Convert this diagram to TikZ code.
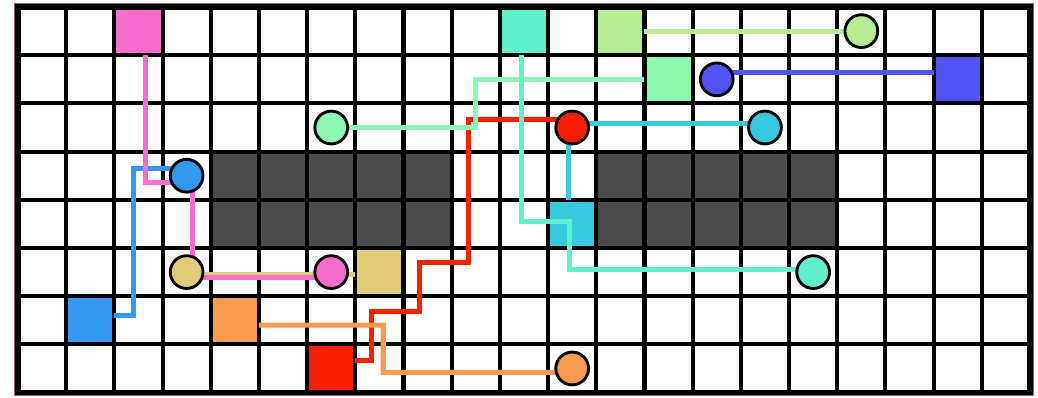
\documentclass[tikz,border=0pt]{standalone}
\usepackage{xcolor}
\usepackage{tikz}
\definecolor{fpink}{HTML}{F86ECE}
\definecolor{fteal}{HTML}{60F0CC}
\definecolor{flime}{HTML}{B6EC92}
\definecolor{fmint}{HTML}{8CF8B2}
\definecolor{fviolet}{HTML}{5252F7}
\definecolor{fcyan}{HTML}{36C9E0}
\definecolor{fkhaki}{HTML}{E1CC79}
\definecolor{fblue}{HTML}{3498EE}
\definecolor{forange}{HTML}{F99B4F}
\definecolor{fred}{HTML}{F91F00}
\definecolor{fwall}{HTML}{4B4B4B}
\definecolor{fframe}{HTML}{8B6464}

\pgfdeclarelayer{board}
\pgfdeclarelayer{wires}
\pgfsetlayers{board,wires,main}

\tikzset{
  sq/.style={minimum size=1cm, inner sep=0pt, outer sep=0pt},
  dot/.style={circle, draw=black, line width=1.7pt, minimum size=0.68cm, inner sep=0pt, outer sep=0pt},
  wire/.style={line width=3pt}
}

\begin{document}
\begin{tikzpicture}[x=1cm, y=-1cm]
  \useasboundingbox (-0.373,-0.146) rectangle (21.166,8.092);
  \begin{pgfonlayer}{board}
  \draw[fframe, line width=0.6pt] (-0.065,-0.065) rectangle (21.065,8.065);
  % end squares
  \node[sq, fill=fpink] (pinkS) at (2.5,0.5) {};
  \node[sq, fill=fteal] (tealS) at (10.5,0.5) {};
  \node[sq, fill=flime] (limeS) at (12.5,0.5) {};
  \node[sq, fill=fmint] (mintS) at (13.5,1.5) {};
  \node[sq, fill=fviolet] (violetS) at (19.5,1.5) {};
  \node[sq, fill=fcyan] (cyanS) at (11.5,4.5) {};
  \node[sq, fill=fkhaki] (khakiS) at (7.5,5.5) {};
  \node[sq, fill=fblue] (blueS) at (1.5,6.5) {};
  \node[sq, fill=forange] (orangeS) at (4.5,6.5) {};
  \node[sq, fill=fred] (redS) at (6.5,7.5) {};
  % walls
  \fill[fwall] (4,3) rectangle (9,5);
  \fill[fwall] (12,3) rectangle (17,5);
  % board
  \draw[line width=2.4pt] (0,0) grid (21,8);
  \draw[line width=3pt] (0,0) rectangle (21,8);
  \end{pgfonlayer}
  % end dots
  \node[dot, fill=flime] (limeC) at (17.5,0.5) {};
  \node[dot, fill=fviolet] (violetC) at (14.5,1.5) {};
  \node[dot, fill=fmint] (mintC) at (6.5,2.5) {};
  \node[dot, fill=fred] (redC) at (11.5,2.5) {};
  \node[dot, fill=fcyan] (cyanC) at (15.5,2.5) {};
  \node[dot, fill=fblue] (blueC) at (3.5,3.5) {};
  \node[dot, fill=fkhaki] (khakiC) at (3.5,5.5) {};
  \node[dot, fill=fpink] (pinkC) at (6.5,5.5) {};
  \node[dot, fill=fteal] (tealC) at (16.5,5.5) {};
  \node[dot, fill=forange] (orangeC) at (11.5,7.5) {};
  % wires
  \begin{pgfonlayer}{wires}
  \draw[wire, fblue] ([yshift=.1cm]blueS.east) -| (2.4,3.35) -- ([yshift=.15cm]blueC.center);
  \draw[wire, fkhaki] ([yshift=-.05cm]khakiC.center) -- ([yshift=-.05cm]khakiS.west);
  \draw[wire, fpink] ([xshift=.14cm]pinkS.south) |- (3.63,3.64) |- ([yshift=-.12cm]pinkC.center);
  \draw[wire, fred] ([yshift=.16cm]redC.center) -| (9.34,5.31) -| (8.33,6.32) -| (7.33,7.33) -- ([yshift=.17cm]redS.east);
  \draw[wire, fmint] (mintC.center) -| (9.5,1.5) -- (mintS.west);
  \draw[wire, forange] ([yshift=-.1cm]orangeS.east) -| (7.58,7.58) -- ([yshift=-.08cm]orangeC.center);
  \draw[wire, fcyan] ([xshift=-.08cm]cyanS.north) |- ([yshift=.08cm]cyanC.center);
  \draw[wire, fteal] ([xshift=-.05cm]tealS.south) |- (11.45,4.45) |- ([yshift=.05cm]tealC.center);
  \draw[wire, flime] (limeS.east) -- (limeC.center);
  \draw[wire, fviolet] ([yshift=.15cm]violetC.center) -- ([yshift=.15cm]violetS.west);
  \end{pgfonlayer}
\end{tikzpicture}
\end{document}
